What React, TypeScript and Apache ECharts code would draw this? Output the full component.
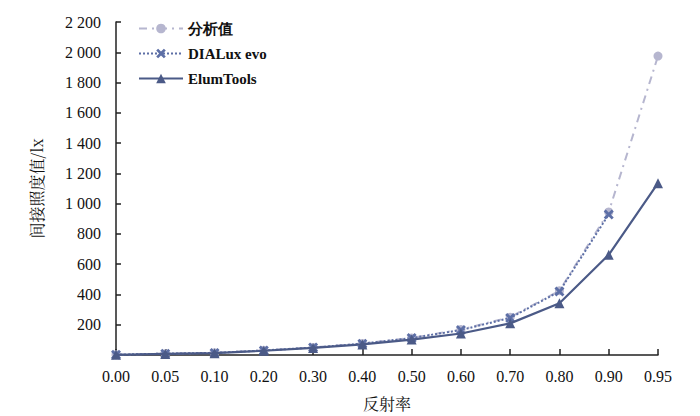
import React, { useEffect, useRef } from "react";
import * as echarts from "echarts";

const categories = ["0.00", "0.05", "0.10", "0.20", "0.30", "0.40", "0.50", "0.60", "0.70", "0.80", "0.90", "0.95"];
const analysisValues = [2, 9, 15, 31, 50, 76, 113, 168, 250, 425, 945, 1975];
const dialuxValues = [2, 9, 14, 30, 49, 75, 112, 165, 245, 420, 929, null];
const elumValues = [1, 7, 12, 28, 47, 70, 102, 142, 209, 342, 662, 1135];
const yTicks = [0, 200, 400, 600, 800, 1000, 1200, 1400, 1600, 1800, 2000, 2200];

const font = "Liberation Serif, Times New Roman, serif";
const cjkFont = "Noto Serif CJK SC, Noto Sans CJK SC, serif";
const cross = "path://M2,0 L5,3 L8,0 L10,2 L7,5 L10,8 L8,10 L5,7 L2,10 L0,8 L3,5 L0,2 Z";

export default function App() {
  const ref = useRef<HTMLDivElement>(null);
  useEffect(() => {
    if (!ref.current) return;
    const chart = echarts.init(ref.current, null, { renderer: "svg" });
    chart.setOption({
      animation: false,
      backgroundColor: "#fff",
      grid: { left: 116, right: 42, top: 22, bottom: 57 },
      legend: {
        orient: "vertical",
        left: 133,
        top: 16,
        itemWidth: 44,
        itemHeight: 12,
        itemGap: 10,
        textStyle: { fontFamily: font, fontSize: 15, fontWeight: "bold", color: "#111" },
        data: ["分析值", "DIALux evo", "ElumTools"],
      },
      xAxis: {
        type: "category",
        data: categories,
        boundaryGap: false,
        name: "反射率",
        nameLocation: "middle",
        nameGap: 40,
        nameTextStyle: { fontFamily: cjkFont, fontSize: 16, color: "#111" },
        axisLine: { lineStyle: { color: "#222", width: 1.5 } },
        axisTick: { inside: true, length: 6, lineStyle: { color: "#222", width: 1.5 } },
        axisLabel: { fontFamily: font, fontSize: 16, color: "#111", margin: 13 },
      },
      yAxis: {
        type: "value",
        min: 0,
        max: 2200,
        interval: 200,
        name: "间接照度值/lx",
        nameLocation: "middle",
        nameGap: 72,
        nameTextStyle: { fontFamily: cjkFont, fontSize: 16, color: "#111" },
        splitLine: { show: false },
        axisLine: { show: true, lineStyle: { color: "#222", width: 1.5 } },
        axisTick: { show: true, inside: true, length: 5, lineStyle: { color: "#222", width: 1.5 } },
        axisLabel: {
          fontFamily: font,
          fontSize: 16,
          color: "#111",
          margin: 15,
          formatter: (v: number) => {
            if (v === 0 || !yTicks.includes(v)) return "";
            return String(v).replace(/\B(?=(\d{3})+(?!\d))/g, " ");
          },
        },
      },
      series: [
        {
          name: "分析值",
          type: "line",
          data: analysisValues,
          symbol: "circle",
          symbolSize: 9,
          itemStyle: { color: "#b6b6cf" },
          lineStyle: { color: "#b6b6cf", width: 2, type: [8, 5, 2, 5] },
          z: 2,
        },
        {
          name: "DIALux evo",
          type: "line",
          data: dialuxValues,
          symbol: cross,
          symbolSize: 10,
          itemStyle: { color: "#5d6fa6" },
          lineStyle: { color: "#5d6fa6", width: 2, type: [2, 2] },
          z: 3,
        },
        {
          name: "ElumTools",
          type: "line",
          data: elumValues,
          symbol: "triangle",
          symbolSize: 10,
          itemStyle: { color: "#4b5a87" },
          lineStyle: { color: "#4b5a87", width: 2.2 },
          z: 4,
        },
      ],
    });
    return () => chart.dispose();
  }, []);
  return <div ref={ref} style={{ width: 700, height: 416, position: "absolute", left: 0, top: 0 }} />;
}
